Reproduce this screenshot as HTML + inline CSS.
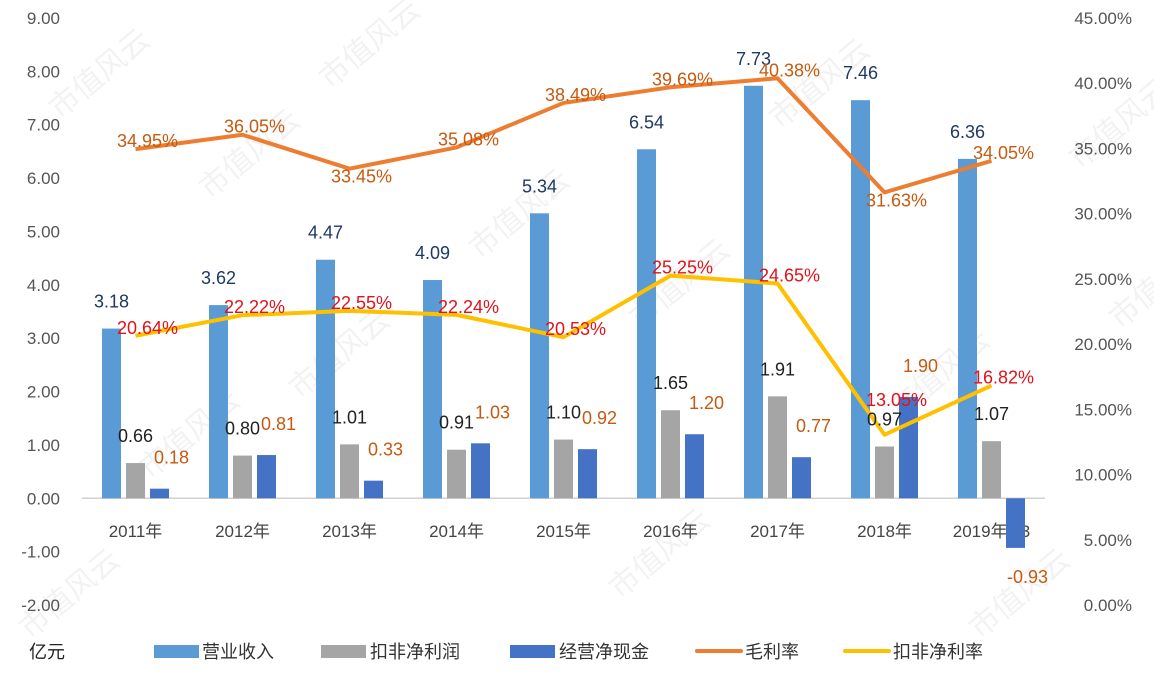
<!DOCTYPE html>
<html><head><meta charset="utf-8"><style>
html,body{margin:0;padding:0;background:#fff;}
svg text{font-family:"Liberation Sans","Noto Sans CJK SC",sans-serif;}
</style></head><body>
<svg id="chart" width="1154" height="683" xmlns="http://www.w3.org/2000/svg">
<g id="wm"></g>
<g id="axes"></g>
<g id="bars"></g>
<g id="lines"></g>
<g id="labels"></g>
<g id="legend">
  <text x="29" y="658" font-size="18" fill="#222">亿元</text>
  <rect x="154" y="645" width="45" height="13" fill="#5b9bd5"/>
  <text x="202" y="658" font-size="18" fill="#333">营业收入</text>
  <rect x="321" y="645" width="45" height="13" fill="#a5a5a5"/>
  <text x="370" y="658" font-size="18" fill="#333">扣非净利润</text>
  <rect x="510" y="645" width="45" height="13" fill="#4472c4"/>
  <text x="559" y="658" font-size="18" fill="#333">经营净现金</text>
  <line x1="697" y1="651" x2="741" y2="651" stroke="#ed7d31" stroke-width="4" stroke-linecap="round"/>
  <text x="745" y="658" font-size="18" fill="#333">毛利率</text>
  <line x1="845" y1="651" x2="889" y2="651" stroke="#ffc000" stroke-width="4" stroke-linecap="round"/>
  <text x="893" y="658" font-size="18" fill="#333">扣非净利率</text>
</g>
</svg>
<script>
const categories = ["2011年","2012年","2013年","2014年","2015年","2016年","2017年","2018年","2019年Q3"];
const revenue = [3.18,3.62,4.47,4.09,5.34,6.54,7.73,7.46,6.36];
const netProfit = [0.66,0.80,1.01,0.91,1.10,1.65,1.91,0.97,1.07];
const cashFlow = [0.18,0.81,0.33,1.03,0.92,1.20,0.77,1.90,-0.93];
const grossMargin = [34.95,36.05,33.45,35.08,38.49,39.69,40.38,31.63,34.05];
const netMargin = [20.64,22.22,22.55,22.24,20.53,25.25,24.65,13.05,16.82];
const leftTicks = [9,8,7,6,5,4,3,2,1,0,-1,-2];
const rightTicks = [45,40,35,30,25,20,15,10,5,0];

const NS="http://www.w3.org/2000/svg";
const plotTop=18, plotBot=605, x0=82, x1=1045;
const yL = v => plotTop + (9 - v) * (plotBot - plotTop) / 11;
const yR = v => plotTop + (45 - v) * (plotBot - plotTop) / 45;
const step = (x1 - x0) / categories.length;
const xC = i => x0 + step * (i + 0.5);
function mk(tag, attrs, parent, txt){
  const e=document.createElementNS(NS,tag);
  for(const k in attrs) e.setAttribute(k, attrs[k]);
  if(txt!==undefined) e.textContent=txt;
  document.getElementById(parent).appendChild(e);
  return e;
}
[[60,120],[210,200],[330,90],[150,480],[300,400],[480,260],[640,330],[780,130],[900,420],[1080,170],[620,600],[980,640],[30,640],[1120,330]].forEach(p=>{
  const t=mk('text',{x:p[0],y:p[1],'font-size':30,fill:'#000','fill-opacity':0.05,transform:`rotate(-40 ${p[0]} ${p[1]})`},'wm','市值风云');
  
  
});
leftTicks.forEach(v=>{
  const t=mk('text',{x:60,y:yL(v)+6,'font-size':17,fill:'#555','text-anchor':'end'},'axes',v.toFixed(2));
  
  
});
rightTicks.forEach(v=>{
  const t=mk('text',{x:1132,y:yR(v)+6,'font-size':17,fill:'#555','text-anchor':'end'},'axes',v.toFixed(2)+'%');
  
  
});
const base=mk('line',{x1:x0,y1:yL(0),x2:x1,y2:yL(0),stroke:'#d0d0d0','stroke-width':1.5},'axes');


categories.forEach((c,i)=>{
  const t=mk('text',{x:xC(i),y:537,'font-size':17,fill:'#444','text-anchor':'middle'},'axes',c);
  
  
});
const bw=19, gap=5;
const series=[[revenue,'#5b9bd5',-1,'#1f3864','revenue-bar'],[netProfit,'#a5a5a5',0,'#222','net-profit-bar'],[cashFlow,'#4472c4',1,'#c55a11','cash-bar']];
series.forEach(s=>{
  s[0].forEach((v,i)=>{
    const cx=xC(i)+s[2]*(bw+gap);
    const y=Math.min(yL(v),yL(0)), h=Math.abs(yL(v)-yL(0));
    const r=mk('rect',{x:cx-bw/2,y:y,width:bw,height:h,fill:s[1]},'bars');
    
    
    const lx = s[2]===1 ? cx+12 : cx;
    const ly = v>=0 ? yL(v)-(s[2]===1?25:21) : yL(v)+35;
    const t=mk('text',{x:lx,y:ly,'font-size':18,fill:s[3],'text-anchor':'middle'},'labels',v.toFixed(2));
    
    
  });
});
[[grossMargin,'#ed7d31','#c55a11','gross-margin'],[netMargin,'#ffc000','#e0121b','net-margin']].forEach(s=>{
  const pts=s[0].map((v,i)=>xC(i)+','+yR(v)).join(' ');
  const p=mk('polyline',{points:pts,fill:'none',stroke:s[1],'stroke-width':4,'stroke-linejoin':'round'},'lines');
  
  
  s[0].forEach((v,i)=>{
    const prev=i>0?s[0][i-1]:null, next=i<s[0].length-1?s[0][i+1]:null;
    const interiorMin = prev!==null && next!==null && v<prev && v<next;
    let ly = yR(v)-2;
    if(s[3]==='gross-margin' && interiorMin) ly = yR(v)+14;
    if(s[3]==='net-margin' && prev!==null && v<prev-5) ly = yR(v)-29;
    const t=mk('text',{x:xC(i)+12,y:ly,'font-size':18,fill:s[2],'text-anchor':'middle'},'labels',v.toFixed(2)+'%');
    
    
  });
});
</script>
</body></html>
